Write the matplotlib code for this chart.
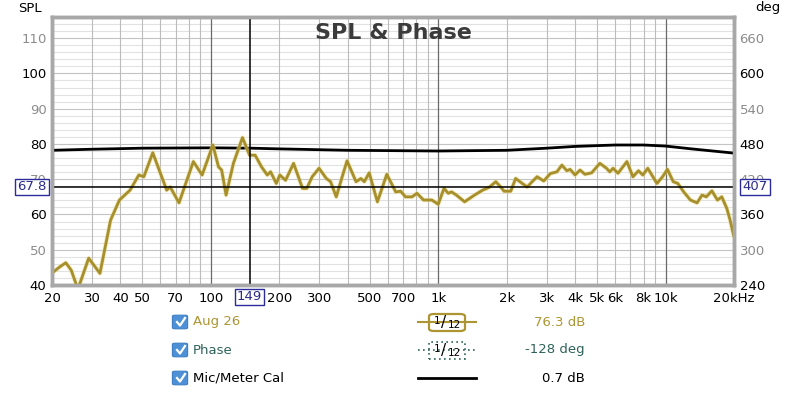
import matplotlib
matplotlib.use("Agg")
import matplotlib.pyplot as plt
from matplotlib.patches import FancyBboxPatch, Rectangle
from matplotlib.lines import Line2D
import numpy as np

# measured SPL (Aug 26), 1/12 oct smoothing
freq = [20, 21.7, 23.0, 24.3, 26.0, 29.0, 32.5, 36.2, 39.6, 44.1,
        48.2, 50.7, 55.5, 63.9, 66.2, 72.4, 83.7, 91.5, 102, 108,
        111.5, 116.6, 125.6, 137.7, 148, 156.6, 167, 177, 183, 194,
        201, 213, 231, 253, 264, 279, 299, 322, 336, 356,
        374, 397, 435, 457, 473, 497, 540, 594, 650, 683,
        718, 767, 806, 862, 937, 1000, 1060, 1107, 1144, 1202,
        1306, 1444, 1568, 1676, 1791, 1883, 1948, 2084, 2190, 2342,
        2462, 2589, 2722, 2911, 3112, 3327, 3498, 3678, 3801, 3998,
        4204, 4420, 4727, 5140, 5497, 5683, 5875, 6177, 6761, 7183,
        7599, 7943, 8351, 9165, 9700, 10190, 10810, 11320, 12020, 12860,
        13760, 14470, 15100, 15990, 16910, 17670, 18600, 19230, 19900, 20000]
spl = [43.4, 45.2, 46.3, 44.2, 38.8, 47.6, 43.3, 58.4, 64.1, 66.9,
       71.2, 70.7, 77.5, 66.9, 67.8, 63.3, 75.0, 71.2, 79.7, 73.5,
       72.6, 65.5, 74.5, 81.8, 76.8, 76.8, 73.5, 71.2, 72.1, 68.8,
       71.2, 69.7, 74.5, 67.4, 67.4, 70.7, 73.1, 70.2, 69.3, 65.0,
       69.7, 75.2, 69.3, 70.2, 69.3, 71.8, 63.6, 71.4, 66.4, 66.6,
       65.0, 65.0, 66.0, 64.1, 64.1, 62.9, 67.4, 66.0, 66.4, 65.5,
       63.6, 65.5, 66.9, 67.7, 69.3, 67.8, 66.6, 66.6, 70.2, 68.8,
       67.8, 69.3, 70.7, 69.5, 71.6, 72.1, 74.0, 72.4, 72.8, 71.2,
       72.6, 71.4, 71.8, 74.5, 73.1, 72.1, 73.1, 71.7, 75.0, 70.7,
       72.4, 71.2, 73.1, 68.8, 70.7, 72.8, 69.3, 68.8, 66.4, 64.1,
       63.3, 65.5, 65.0, 66.7, 64.1, 65.0, 61.7, 58.4, 54.2, 53.8]

# mic/meter cal curve
cal_freq = [20, 30, 50, 100, 150, 200, 400, 1000, 2000, 3000, 4000, 6000, 8000, 10000, 13000, 20000]
cal_spl = [78.2, 78.5, 78.8, 78.9, 78.8, 78.6, 78.2, 78.0, 78.2, 78.8, 79.3, 79.7, 79.7, 79.4, 78.6, 77.4]

xticks = [20, 30, 40, 50, 70, 100, 200, 300, 500, 700, 1000, 2000, 3000, 4000, 5000, 6000, 8000, 10000, 20000]
xlabels = ["20", "30", "40", "50", "70", "100", "200", "300", "500", "700", "1k",
           "2k", "3k", "4k", "5k", "6k", "8k", "10k", "20kHz"]
spl_ticks = [40, 50, 60, 70, 80, 90, 100, 110]
deg_ticks = [240, 300, 360, 420, 480, 540, 600, 660]

cursor_f = 149
cursor_spl = 67.8
cursor_deg = 407

legend_names = ["Aug 26", "Phase", "Mic/Meter Cal"]
legend_values = ["76.3 dB", "-128 deg", "0.7 dB"]
legend_colors = ["#ad9532", "#2e6359", "#000000"]

W, H = 800, 399
fig = plt.figure(figsize=(8, 3.99), dpi=100)
ax = fig.add_axes([52 / W, 1 - 285 / H, (734 - 52) / W, (285 - 17) / H])
ax.set_xscale("log")
ax.set_xlim(20, 20000)
ax.set_ylim(40, 116)

# grid
for v in np.arange(40, 116, 2):
    ax.axhline(v, color="#c4c4c4" if v % 10 == 0 else "#e2e2e2", lw=0.8, zorder=0)
for dec in [10, 100, 1000, 10000]:
    for m in range(1, 10):
        f = dec * m
        if f <= 20 or f >= 20000:
            continue
        dark = m == 1
        ax.axvline(f, color="#6a6a6a" if dark else "#bcbcbc", lw=0.9 if dark else 0.8, zorder=0)

ax.plot(cal_freq, cal_spl, color="black", lw=2, zorder=3)
ax.plot(freq, spl, color="#e6d77a", lw=3.2, alpha=0.5, zorder=4, solid_joinstyle="round")
ax.plot(freq, spl, color="#a68f2c", lw=2.0, zorder=5, solid_joinstyle="round")

# cursor
ax.axvline(cursor_f, color="black", lw=1.1, zorder=6)
ax.axhline(cursor_spl, color="black", lw=1.1, zorder=6)

ax.set_xticks(xticks)
ax.set_xticklabels(xlabels)
ax.xaxis.set_minor_locator(matplotlib.ticker.NullLocator())
ax.set_yticks(spl_ticks)
ax.set_yticklabels([str(t) for t in spl_ticks])
ax.tick_params(axis="x", length=0, labelsize=9.5, pad=5)
ax.tick_params(axis="y", length=0, labelsize=9.5, pad=4)
for t, lab in zip(spl_ticks, ax.get_yticklabels()):
    lab.set_color("black" if t % 20 == 0 else "#8c8c8c")

ax2 = ax.twinx()
ax2.set_ylim(240, 696)
ax2.set_yticks(deg_ticks)
ax2.set_yticklabels([str(t) for t in deg_ticks])
ax2.tick_params(length=0, labelsize=9.5, pad=4)
for t, lab in zip(deg_ticks, ax2.get_yticklabels()):
    lab.set_color("black" if (t - 240) % 120 == 0 else "#8c8c8c")

for a in (ax, ax2):
    for s in a.spines.values():
        s.set_color("#a8a8a8")
        s.set_linewidth(2.5)

def fx(x):
    return x / W

def fy(y):
    return 1 - y / H

# cursor readouts
box = dict(boxstyle="square,pad=0.15", fc="white", ec="#2b2b9a", lw=1)
fig.text(fx(32), fy(187), "67.8", ha="center", va="center", fontsize=9.5, color="#2b2b8c", bbox=box, zorder=10)
fig.text(fx(755), fy(187), "407", ha="center", va="center", fontsize=9.5, color="#2b2b8c", bbox=box, zorder=10)
fig.text(fx(249.5), fy(297), "149", ha="center", va="center", fontsize=9.5, color="#2b2b8c", bbox=box, zorder=10)

fig.text(fx(30), fy(8), "SPL", ha="center", va="center", fontsize=9.5)
fig.text(fx(768), fy(8), "deg", ha="center", va="center", fontsize=9.5)
ax.text(0.501, 0.942, "SPL & Phase", transform=ax.transAxes, ha="center", va="center",
        fontsize=16, fontweight="bold", color="#3b3b3b", zorder=8)

# legend rows
rows = [322, 350, 378]
for i, (name, val, col) in enumerate(zip(legend_names, legend_values, legend_colors)):
    y = rows[i]
    cb = FancyBboxPatch((fx(174), fy(y + 6)), 12 / W, 12 / H, boxstyle="round,pad=0.002,rounding_size=0.003",
                        transform=fig.transFigure, fc="#4d90d6", ec="#3d7fc4", lw=0.8)
    fig.patches.append(cb)
    fig.lines.append(Line2D([fx(177), fx(180), fx(185)], [fy(y), fy(y + 3.5), fy(y - 4)],
                            transform=fig.transFigure, color="white", lw=1.6))
    fig.text(fx(193), fy(y), name, ha="left", va="center", fontsize=9.5, color=col)
    fig.text(fx(585), fy(y), val, ha="right", va="center", fontsize=9.5, color=col)

# legend line samples
fig.lines.append(Line2D([fx(418), fx(476)], [fy(322), fy(322)], transform=fig.transFigure, color="#ad9532", lw=1.5))
fig.patches.append(FancyBboxPatch((fx(429), fy(331)), 36 / W, 17 / H, boxstyle="round,pad=0,rounding_size=0.006",
                                  transform=fig.transFigure, fc="white", ec="#ad9532", lw=1.6))
fig.lines.append(Line2D([fx(418), fx(476)], [fy(350), fy(350)], transform=fig.transFigure, color="#2e6359",
                        lw=1.2, ls=(0, (1, 2))))
fig.patches.append(Rectangle((fx(429), fy(359)), 36 / W, 17 / H, transform=fig.transFigure, fc="white",
                             ec="#2e6359", lw=1.2, ls=(0, (1, 2))))
fig.lines.append(Line2D([fx(418), fx(476)], [fy(378), fy(378)], transform=fig.transFigure, color="black", lw=2))
for y in (322, 350):
    fig.text(fx(437), fy(y - 1.5), "1", ha="center", va="center", fontsize=7.5)
    fig.text(fx(444), fy(y), "/", ha="center", va="center", fontsize=11)
    fig.text(fx(454), fy(y + 3), "12", ha="center", va="center", fontsize=7.5)

fig.savefig("out.png", dpi=100)
